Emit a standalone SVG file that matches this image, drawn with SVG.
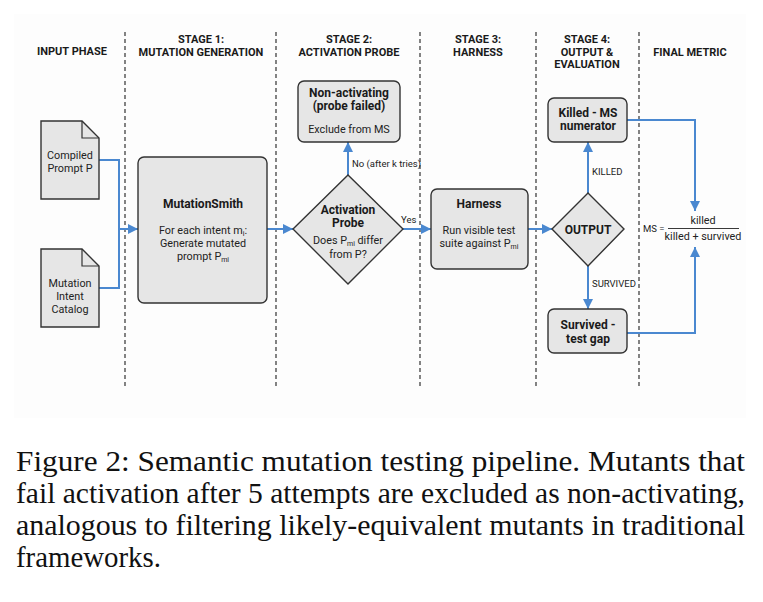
<svg xmlns="http://www.w3.org/2000/svg" width="763" height="602" viewBox="0 0 763 602">
<style>
.hdr{font-family:Roboto,"Liberation Sans",sans-serif;font-weight:bold;font-size:11px;fill:#1a1a1a;text-anchor:middle}
.ttl{font-family:Roboto,"Liberation Sans",sans-serif;font-weight:bold;font-size:12px;fill:#1a1a1a;text-anchor:middle}
.txt{font-family:Roboto,"Liberation Sans",sans-serif;font-size:10.8px;fill:#222;text-anchor:middle}
.lbl{font-family:Roboto,"Liberation Sans",sans-serif;font-size:9.5px;fill:#222}
.box{fill:#e6e6e6;stroke:#333;stroke-width:1.4}
.div{stroke:#333;stroke-width:1.2;stroke-dasharray:4 3;fill:none}
.con{stroke:#4a88d0;stroke-width:2;fill:none}
.cap{font-family:"Liberation Serif","Times New Roman",serif;font-size:29px;fill:#111}
</style>
<defs>
<marker id="ah" markerUnits="userSpaceOnUse" markerWidth="10" markerHeight="10" refX="10" refY="5" orient="auto">
<path d="M0,0 L10,5 L0,10 z" fill="#4a88d0"/>
</marker>
</defs>
<rect x="0" y="0" width="763" height="602" fill="#ffffff"/>
<rect x="14" y="14" width="732" height="404" fill="#fdfdfd"/>

<g id="dividers">
<line class="div" x1="125" y1="32" x2="125" y2="388"/>
<line class="div" x1="276" y1="32" x2="276" y2="388"/>
<line class="div" x1="420" y1="32" x2="420" y2="388"/>
<line class="div" x1="536" y1="32" x2="536" y2="388"/>
<line class="div" x1="639" y1="32" x2="639" y2="388"/>
</g>

<g id="headers">
<text class="hdr" x="72" y="55">INPUT PHASE</text>
<text class="hdr" x="201" y="43">STAGE 1:</text>
<text class="hdr" x="201" y="55.5">MUTATION GENERATION</text>
<text class="hdr" x="349" y="43">STAGE 2:</text>
<text class="hdr" x="349" y="55.5">ACTIVATION PROBE</text>
<text class="hdr" x="478" y="43">STAGE 3:</text>
<text class="hdr" x="478" y="55.5">HARNESS</text>
<text class="hdr" x="587" y="43">STAGE 4:</text>
<text class="hdr" x="587" y="55.5">OUTPUT &amp;</text>
<text class="hdr" x="587" y="68">EVALUATION</text>
<text class="hdr" x="690" y="55.5">FINAL METRIC</text>
</g>

<g id="connectors">
<path class="con" d="M99,160 H119 V229"/>
<path class="con" d="M99,288 H119 V229"/>
<path class="con" d="M118,229 H138" marker-end="url(#ah)"/>
<path class="con" d="M267,229 H293" marker-end="url(#ah)"/>
<path class="con" d="M348,175 V142" marker-end="url(#ah)"/>
<path class="con" d="M402,229 H431" marker-end="url(#ah)"/>
<path class="con" d="M528,229 H552" marker-end="url(#ah)"/>
<path class="con" d="M588,193 V142" marker-end="url(#ah)"/>
<path class="con" d="M588,266 V309" marker-end="url(#ah)"/>
<path class="con" d="M627,120 H695 V211" marker-end="url(#ah)"/>
<path class="con" d="M627,333 H695 V247" marker-end="url(#ah)"/>
<text class="lbl" x="352" y="167">No (after k tries)</text>
<text class="lbl" x="401" y="223">Yes</text>
<text class="lbl" x="592" y="175">KILLED</text>
<text class="lbl" x="592" y="287">SURVIVED</text>
</g>

<g id="compiled-prompt">
<path class="box" d="M41,121 H82 L99,138 V199 H41 Z"/>
<path d="M82,121 V138 H99" fill="none" stroke="#333" stroke-width="1.2"/>
<text class="txt" x="70" y="159">Compiled</text>
<text class="txt" x="70" y="172">Prompt P</text>
</g>

<g id="mutation-intent-catalog">
<path class="box" d="M41,249 H82 L99,266 V327 H41 Z"/>
<path d="M82,249 V266 H99" fill="none" stroke="#333" stroke-width="1.2"/>
<text class="txt" x="70" y="287">Mutation</text>
<text class="txt" x="70" y="300">Intent</text>
<text class="txt" x="70" y="313">Catalog</text>
</g>

<g id="mutationsmith">
<rect class="box" x="138" y="157" width="129" height="146" rx="6"/>
<text class="ttl" x="203" y="208">MutationSmith</text>
<text class="txt" x="203" y="234">For each intent m<tspan font-size="7" dy="2">i</tspan><tspan dy="-2">:</tspan></text>
<text class="txt" x="203" y="247">Generate mutated</text>
<text class="txt" x="203" y="259.5">prompt P<tspan font-size="7" dy="2">mi</tspan></text>
</g>

<g id="non-activating">
<rect class="box" x="298" y="81" width="102" height="61" rx="6"/>
<text class="ttl" x="349" y="97">Non-activating</text>
<text class="ttl" x="349" y="110">(probe failed)</text>
<text class="txt" x="349" y="133">Exclude from MS</text>
</g>

<g id="activation-probe">
<polygon class="box" points="348,175 403,229 348,284 293,229"/>
<text class="ttl" x="348" y="214">Activation</text>
<text class="ttl" x="348" y="227">Probe</text>
<text class="txt" x="348" y="244">Does P<tspan font-size="7" dy="2">mi</tspan><tspan dy="-2"> differ</tspan></text>
<text class="txt" x="348" y="257.5">from P?</text>
</g>

<g id="harness">
<rect class="box" x="431" y="189" width="97" height="80" rx="6"/>
<text class="ttl" x="479" y="208">Harness</text>
<text class="txt" x="479" y="234">Run visible test</text>
<text class="txt" x="479" y="247">suite against P<tspan font-size="7" dy="2">mi</tspan></text>
</g>

<g id="output">
<polygon class="box" points="588,193 624,229 588,266 552,229"/>
<text class="ttl" x="588" y="234">OUTPUT</text>
</g>

<g id="killed">
<rect class="box" x="548" y="98" width="79" height="44" rx="6"/>
<text class="ttl" x="588" y="117">Killed - MS</text>
<text class="ttl" x="588" y="130">numerator</text>
</g>

<g id="survived">
<rect class="box" x="548" y="309" width="79" height="44" rx="6"/>
<text class="ttl" x="588" y="329">Survived -</text>
<text class="ttl" x="588" y="343">test gap</text>
</g>

<g id="formula">
<text class="lbl" x="643" y="232" font-size="10">MS =</text>
<text class="txt" x="703" y="224" font-size="10">killed</text>
<line x1="668" y1="228.5" x2="739" y2="228.5" stroke="#222" stroke-width="0.9"/>
<text class="txt" x="703" y="240" font-size="10">killed + survived</text>
</g>

<g id="caption">
<text class="cap" x="16" y="471" textLength="729" lengthAdjust="spacingAndGlyphs">Figure 2: Semantic mutation testing pipeline.  Mutants that</text>
<text class="cap" x="16" y="503" textLength="729" lengthAdjust="spacingAndGlyphs">fail activation after 5 attempts are excluded as non-activating,</text>
<text class="cap" x="16" y="535" textLength="729" lengthAdjust="spacingAndGlyphs">analogous to filtering likely-equivalent mutants in traditional</text>
<text class="cap" x="16" y="567" textLength="145" lengthAdjust="spacingAndGlyphs">frameworks.</text>
</g>
</svg>
